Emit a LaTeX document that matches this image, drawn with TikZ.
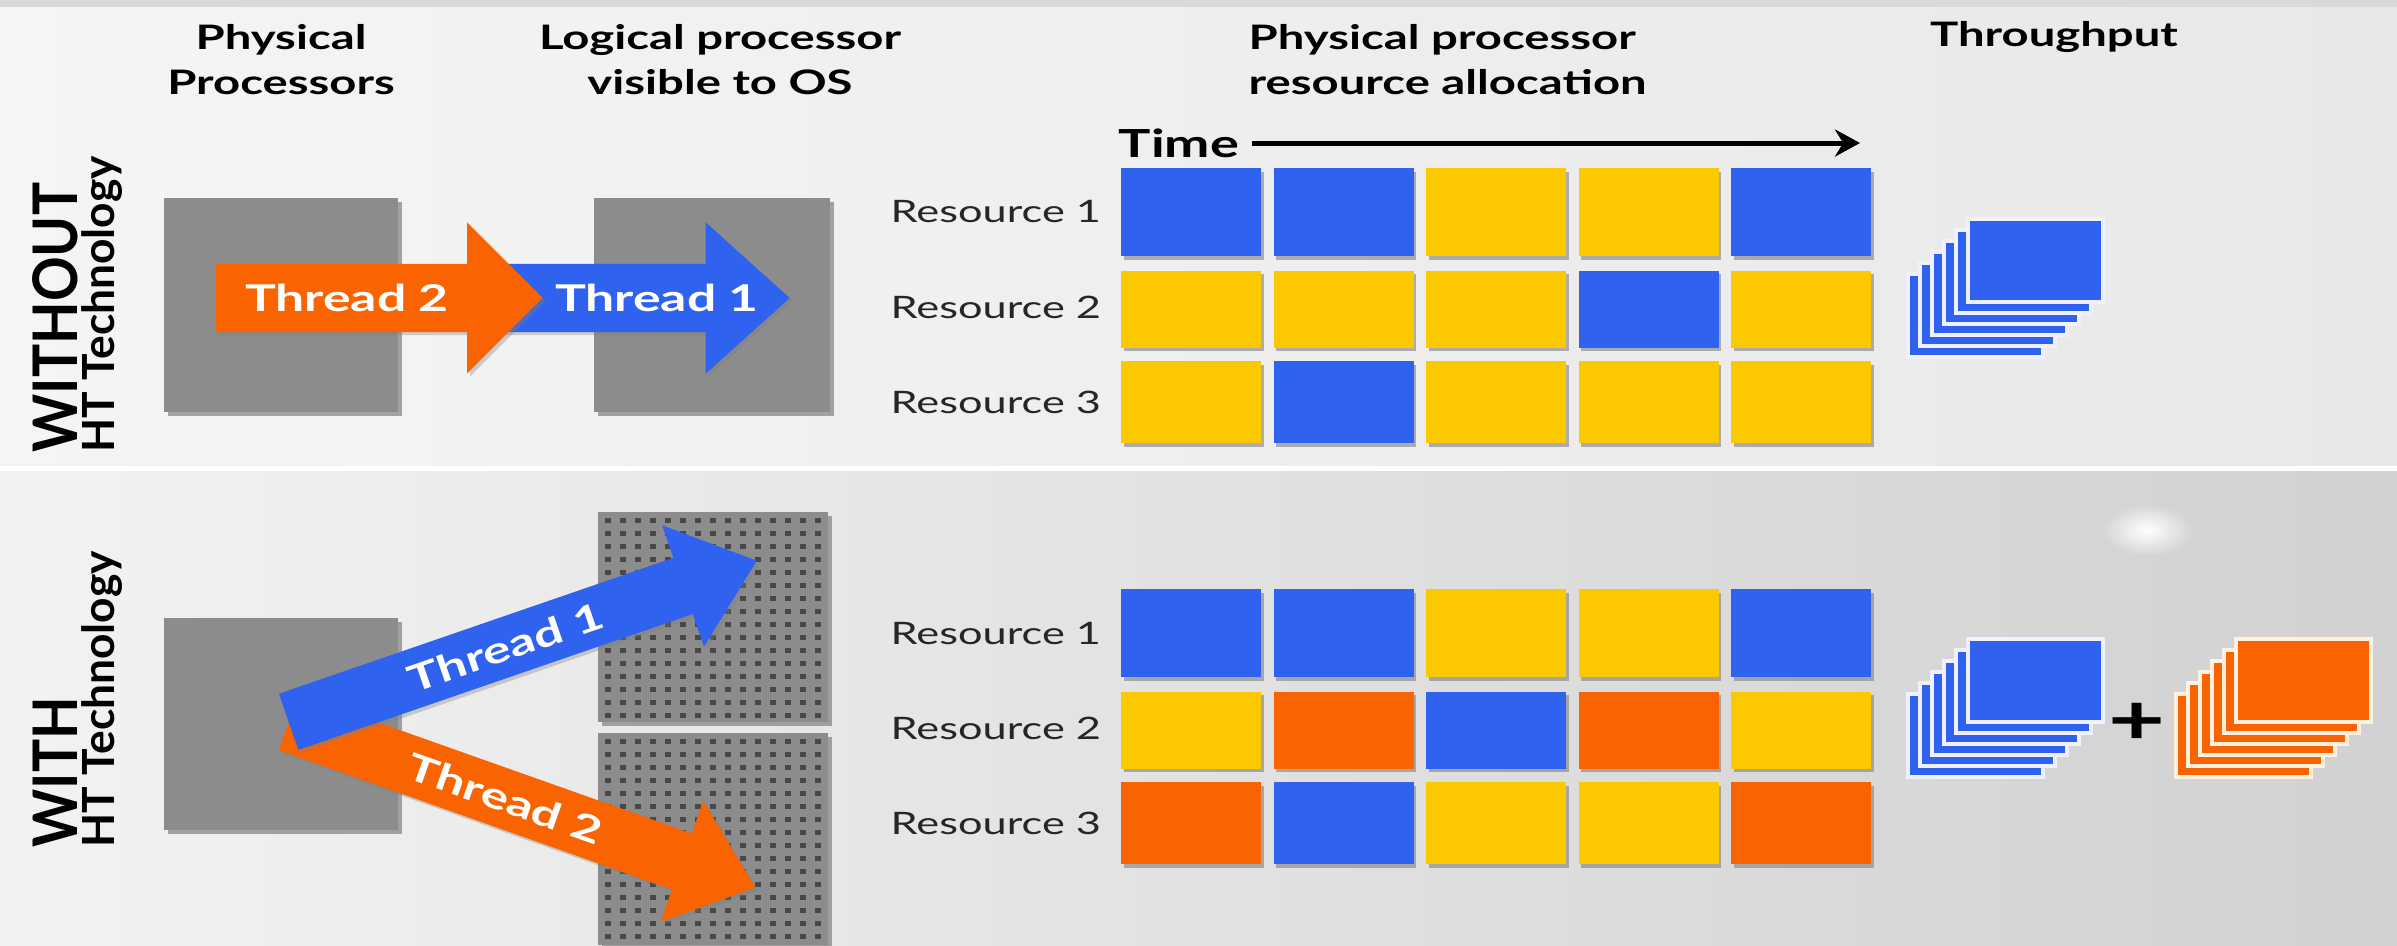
\documentclass[tikz,border=0pt]{standalone}
\usepackage{fontspec}
\setmainfont{Lato}
\newfontfamily\widefont[FakeStretch=1.4]{Lato}
\newfontfamily\tallfont[FakeStretch=0.9]{Lato}
\usetikzlibrary{shapes.arrows, arrows.meta, shadows, fadings}
\definecolor{cb}{RGB}{48,98,240}
\definecolor{cy}{RGB}{252,200,0}
\definecolor{co}{RGB}{250,100,0}
\definecolor{chipgray}{RGB}{140,140,140}
\definecolor{dotgray}{RGB}{72,72,72}
\tikzfading[name=glow, inner color=transparent!0, outer color=transparent!100]
\tikzstyle{head} = [align=center, anchor=north, inner sep=0pt, font=\widefont\bfseries\fontsize{9.6}{12.8}\selectfont]
\tikzstyle{side} = [rotate=90, anchor=base west, inner sep=0pt, font=\tallfont\bfseries\fontsize{17.5}{17.5}\selectfont]
\tikzstyle{sidesub} = [rotate=90, anchor=base west, inner sep=0pt, font=\bfseries\fontsize{12.6}{12.6}\selectfont]
\tikzstyle{reslabel} = [anchor=west, inner sep=0pt, text=black!85, font=\widefont\fontsize{8.8}{8.8}\selectfont]
\tikzstyle{cpu} = [rectangle, fill=chipgray, minimum width=23.4mm, minimum height=21.4mm, drop shadow={shadow xshift=0.35mm, shadow yshift=-0.35mm, opacity=0.7}]
\tikzstyle{cell} = [rectangle, minimum width=14mm, inner sep=0pt, drop shadow={shadow xshift=0.25mm, shadow yshift=-0.35mm, opacity=0.6}]
\tikzstyle{thread} = [single arrow, anchor=tail, text height=2.7mm, text depth=0.3mm, inner xsep=1mm, drop shadow={shadow xshift=0.3mm, shadow yshift=-0.3mm, opacity=0.35}]
\tikzstyle{threadtext} = [text=white, inner sep=0pt, font=\widefont\bfseries\fontsize{10.5}{10.5}\selectfont]
\tikzstyle{timearrow} = [line width=0.5mm,-{Stealth[length=2.5mm,width=2.7mm]}]
\tikzstyle{stackb} = [fill=cb, draw=blue!6!white, line width=0.35mm]
\tikzstyle{stacko} = [fill=co, draw=orange!12!white, line width=0.35mm]
\tikzstyle{chipdot} = [fill=dotgray]

\begin{document}
\begin{tikzpicture}[x=0.1mm, y=-0.1mm, node distance=9.5mm]
\useasboundingbox (0,0) rectangle (2397,945);
\fill[gray!30] (0,0) rectangle (2397,7);
\shade[left color=black!4, right color=black!9] (0,7) rectangle (2397,466);
\fill[white] (0,466) rectangle (2397,471);
\shade[left color=black!5, right color=black!18] (0,471) rectangle (2397,945);
\fill[white, path fading=glow] (2147,530) ellipse (4.5mm and 2.6mm);

\node (hphys) [head] at (281,24) {Physical\\Processors};
\node (hlog) [head, right of=hphys, node distance=43.9mm] {Logical processor\\visible to OS};
\node (halloc) [head, anchor=north west, align=left] at (1248,24) {Physical processor\\resource allocation};
\node (hthru) [head] at (2054,21) {Throughput};

\node (wo) [side] at (77,453) {WITHOUT};
\node (woht) [sidesub] at (114,453) {HT Technology};
\node (wi) [side] at (77,848) {WITH};
\node (wiht) [sidesub] at (114,848) {HT Technology};

\node (pp1) [cpu] at (281,305) {};
\node (lp1) [cpu, minimum width=23.6mm] at (712,305) {};
\node (pp2) [cpu, minimum height=21.2mm] at (281,724) {};
\node (lp2) [cpu, minimum width=23mm, minimum height=21mm] at (713,617) {};
\node (lp3) [cpu, minimum width=23mm, minimum height=21.2mm] at (713,839) {};
\foreach \n in {lp2,lp3}
  \foreach \i in {0,...,14}
    \foreach \j in {0,...,15}
      \fill[chipdot] ([shift={(8+15*\i,7+13*\j)}]\n.north west) rectangle ++(6,5);

\node (t1a) [thread, fill=cb, minimum height=31.9mm, inner ysep=1.85mm, single arrow head extend=4.15mm, single arrow tip angle=84] at (470,298) {};
\node (t2a) [thread, fill=co, minimum height=32.7mm, inner ysep=1.85mm, single arrow head extend=4.15mm, single arrow tip angle=90] at (215,298) {};
\node (t2b) [thread, fill=co, rotate=-19.5, minimum height=49.5mm, inner ysep=1.4mm, single arrow head extend=3.45mm, single arrow tip angle=79] at (288,722) {};
\node (t1b) [thread, fill=cb, rotate=19, minimum height=49.5mm, inner ysep=1.4mm, single arrow head extend=3.45mm, single arrow tip angle=79] at (288,722) {};
\node (l2a) [threadtext] at (347,298) {Thread 2};
\node (l1a) [threadtext] at (657,298) {Thread 1};
\node (l1b) [threadtext, rotate=19] at (t1b.center) {Thread 1};
\node (l2b) [threadtext, rotate=-19.5] at (t2b.center) {Thread 2};

\node (time) [font=\widefont\bfseries\fontsize{11}{11}\selectfont] at (1179,143) {Time};
\coordinate (tend) at (1860,143);
\draw [timearrow] (time) -- (tend);

\foreach \row/\yc/\hh/\cols in {1/212/88/{cb,cb,cy,cy,cb}, 2/309/77/{cy,cy,cy,cb,cy}, 3/402/82/{cy,cb,cy,cy,cy}}
  \foreach \clr [count=\cc] in \cols
    \node (a\row\cc) [cell, fill=\clr, minimum height=\hh*0.1mm] at (1038.5+152.5*\cc,\yc) {};
\foreach \row/\yc/\hh/\cols in {1/633/88/{cb,cb,cy,cy,cb}, 2/730/77/{cy,co,cb,co,cy}, 3/823/82/{co,cb,cy,cy,co}}
  \foreach \clr [count=\cc] in \cols
    \node (b\row\cc) [cell, fill=\clr, minimum height=\hh*0.1mm] at (1038.5+152.5*\cc,\yc) {};

\node (ra1) [reslabel] at (890,212) {Resource 1};
\node (ra2) [reslabel, below of=ra1] {Resource 2};
\node (ra3) [reslabel, below of=ra2] {Resource 3};
\node (rb1) [reslabel] at (890,633) {Resource 1};
\node (rb2) [reslabel, below of=rb1] {Resource 2};
\node (rb3) [reslabel, below of=rb2] {Resource 3};

\foreach \k in {5,...,0} {
  \draw[stackb] (1968-12*\k,219+11*\k) rectangle ++(135,83);
  \draw[stackb] (1968-12*\k,639+11*\k) rectangle ++(135,83);
  \draw[stacko] (2236-12*\k,639+11*\k) rectangle ++(135,83);
}
\node (plus) [font=\widefont\bfseries\fontsize{20}{20}\selectfont] at (2137,724) {+};
\end{tikzpicture}
\end{document}
